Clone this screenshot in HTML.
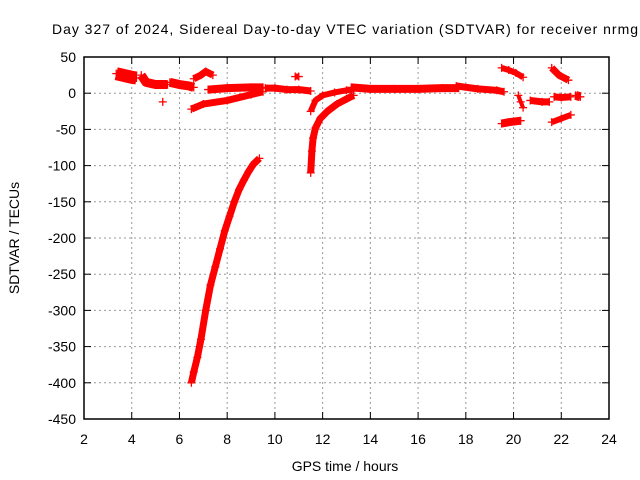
<!DOCTYPE html>
<html><head><meta charset="utf-8"><style>
body{margin:0;background:#fff}
svg{display:block;font-family:"Liberation Sans",sans-serif}
</style></head><body>
<svg id="chart" width="640" height="480">
<rect width="640" height="480" fill="#fff"/>
<text x="345" y="34" text-anchor="middle" font-size="14" textLength="586">Day 327 of 2024, Sidereal Day-to-day VTEC variation (SDTVAR) for receiver nrmg</text>
<text x="345" y="471" text-anchor="middle" font-size="14">GPS time / hours</text>
<text transform="translate(19,238) rotate(-90)" text-anchor="middle" font-size="14">SDTVAR / TECUs</text>
<g id="grid"></g><g id="ticks"></g><g id="marks"></g>
<rect x="84" y="57" width="525" height="362" fill="none" stroke="#000" stroke-width="1.5"/>
</svg>
<script>
const xTicks=[2,4,6,8,10,12,14,16,18,20,22,24];
const yTicks=[50,0,-50,-100,-150,-200,-250,-300,-350,-400,-450];
const trackA=[[3.35,27],[3.6,25],[4.0,22],[4.2,21]];
const trackB=[[4.4,25],[4.6,15],[5.0,12],[5.5,12]];
const trackC=[[5.6,15],[6.0,12],[6.4,10],[6.6,8]];
const trackSingle=[[5.3,-12]];
const trackD=[[6.6,20],[6.9,25],[7.1,30],[7.4,25]];
const trackE=[[7.2,5],[8,7],[9,8],[9.5,8]];
const trackF=[[6.5,-22],[7,-15],[8,-10],[9,-2],[9.5,2]];
const trackG=[[9.6,7],[10,7],[10.5,5],[11,5],[11.5,3]];
const trackH=[[10.85,23],[11.0,23]];
const trackDive1=[[6.5,-400],[6.6,-385],[6.75,-365],[6.9,-340],[7.1,-300],[7.3,-265],[7.5,-240],[7.7,-215],[7.9,-190],[8.1,-170],[8.3,-150],[8.5,-133],[8.7,-120],[8.9,-108],[9.1,-98],[9.35,-90]];
const trackDive2=[[11.5,-110],[11.55,-80],[11.6,-62],[11.7,-48],[11.9,-35],[12.2,-25],[12.6,-15],[13.0,-8],[13.3,-3]];
const trackJ=[[11.5,-25],[11.7,-10],[12,-3],[12.5,1],[13,4],[13.3,5]];
const trackK=[[13.2,8],[14,6],[15,6],[16,6],[17,7],[17.7,7]];
const trackL=[[17.6,10],[18.5,6],[19.3,4],[19.6,2]];
const trackM=[[19.5,35],[19.8,32],[20.1,28],[20.4,22]];
const trackN=[[19.5,-42],[19.8,-40],[20.3,-38]];
const trackO=[[20.2,-3],[20.3,-12],[20.4,-20]];
const trackP=[[20.7,-10],[21.2,-12],[21.5,-12]];
const trackQ=[[21.6,35],[21.9,25],[22.3,18]];
const trackR=[[21.7,-5],[22,-6],[22.4,-5]];
const trackS=[[21.6,-40],[22.0,-35],[22.4,-30]];
const trackT=[[22.6,-3],[22.8,-5]];
const tracks=[trackA,trackB,trackC,trackSingle,trackD,trackE,trackF,trackG,trackH,trackDive1,trackDive2,trackJ,trackK,trackL,trackM,trackN,trackO,trackP,trackQ,trackR,trackS,trackT];
const bandPx=[13,9,9,0,7,8,7,7,6,7,7,6,8,7,6,8,4,7,7,7,6,9];
const NS="http://www.w3.org/2000/svg";
const X=v=>84+(v-2)*525/22, Y=v=>57+(50-v)*362/500;
const grid=document.getElementById('grid'),ticks=document.getElementById('ticks'),marks=document.getElementById('marks');
function mk(t,a,p){const e=document.createElementNS(NS,t);for(const k in a)e.setAttribute(k,a[k]);p.appendChild(e);return e;}
xTicks.forEach(v=>{const x=X(v);
 if(v>2&&v<24){const g=mk('line',{x1:x,x2:x,y1:57,y2:419,stroke:'#999','stroke-dasharray':'2,3'},grid);
 
 }
 mk('line',{x1:x,x2:x,y1:419,y2:412,stroke:'#000'},ticks);mk('line',{x1:x,x2:x,y1:57,y2:64,stroke:'#000'},ticks);
 const t=mk('text',{x:x,y:444,'text-anchor':'middle','font-size':14},ticks);t.textContent=v;
 
 });
yTicks.forEach(v=>{const y=Y(v);
 if(v<50&&v>-450){const g=mk('line',{x1:84,x2:609,y1:y,y2:y,stroke:'#999','stroke-dasharray':'2,3'},grid);
 
 }
 mk('line',{x1:84,x2:91,y1:y,y2:y,stroke:'#000'},ticks);mk('line',{x1:609,x2:602,y1:y,y2:y,stroke:'#000'},ticks);
 const t=mk('text',{x:76,y:y+5,'text-anchor':'end','font-size':14},ticks);t.textContent=v;
 
 });
tracks.forEach((tr,i)=>{
 const g=mk('g',{},marks);
 
 
 if(tr.length>1&&bandPx[i]>0){mk('polyline',{points:tr.map(p=>X(p[0])+','+Y(p[1])).join(' '),fill:'none',stroke:'#f00','stroke-width':bandPx[i],'stroke-linejoin':'round','stroke-linecap':'butt'},g);}
 tr.forEach(p=>{const x=X(p[0]),y=Y(p[1]);
  mk('path',{d:`M${x-4},${y}H${x+4}M${x},${y-4}V${y+4}`,stroke:'#f00','stroke-width':1.3,fill:'none'},g);});
});
</script>
</body></html>
